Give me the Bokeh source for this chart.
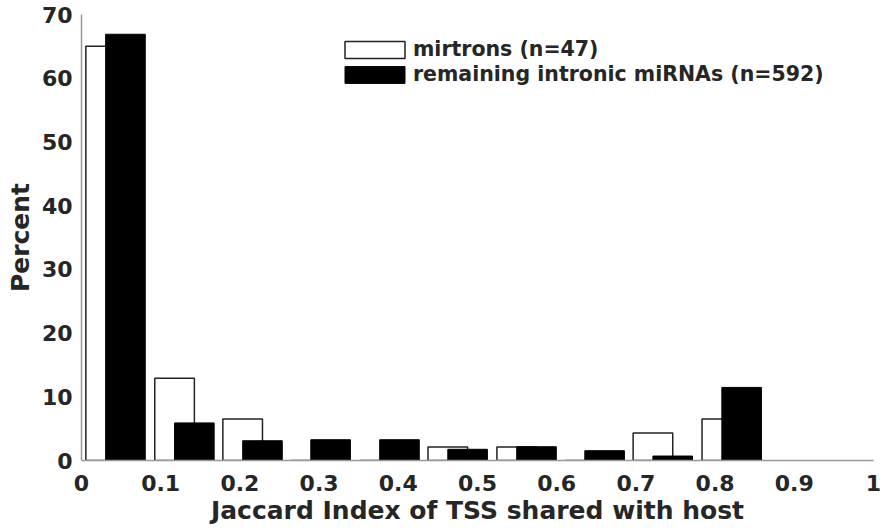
from bokeh.plotting import figure
from bokeh.models import FixedTicker, Legend, LegendItem, ColumnDataSource
from bokeh.transform import dodge
from bokeh.embed import file_html
from bokeh.resources import INLINE

bin_centers = [0.043, 0.130, 0.216, 0.302, 0.389, 0.475, 0.562, 0.648, 0.734, 0.821]
mirtrons = [65.0, 12.9, 6.5, 0.0, 0.0, 2.12, 2.12, 0.0, 4.3, 6.5]
remaining = [66.9, 5.9, 3.1, 3.26, 3.26, 1.76, 2.16, 1.54, 0.7, 11.47]
x_ticks = [0, 0.1, 0.2, 0.3, 0.4, 0.5, 0.6, 0.7, 0.8, 0.9, 1]
x_tick_labels = ["0", "0.1", "0.2", "0.3", "0.4", "0.5", "0.6", "0.7", "0.8", "0.9", "1"]
y_ticks = [0, 10, 20, 30, 40, 50, 60, 70]
label_mirtrons = "mirtrons (n=47)"
label_remaining = "remaining intronic miRNAs (n=592)"
x_title = "Jaccard Index of TSS shared with host"
y_title = "Percent"

src = ColumnDataSource(dict(x=bin_centers, m=mirtrons, r=remaining))

FONT = "DejaVu Sans"
TXT = "#262626"

p = figure(frame_width=792, frame_height=446, x_range=(0, 1), y_range=(0, 70),
           output_backend="svg", toolbar_location=None,
           min_border_left=81, min_border_right=8, min_border_top=14, min_border_bottom=20)
p.outline_line_color = None
p.grid.visible = False

r1 = p.vbar(x=dodge("x", -0.0125, range=p.x_range), top="m", width=0.05, bottom=0,
            source=src, fill_color="white", line_color="#222222", line_width=1.5)
r2 = p.vbar(x=dodge("x", 0.0125, range=p.x_range), top="r", width=0.05, bottom=0,
            source=src, fill_color="black", line_color="black", line_width=1.0)

for ax in (p.xaxis[0], p.yaxis[0]):
    ax.axis_line_color = "#999999"
    ax.axis_line_width = 1.5
    ax.major_tick_line_color = None
    ax.minor_tick_line_color = None
    ax.major_tick_out = 0
    ax.major_tick_in = 0
    ax.major_label_text_font = FONT
    ax.major_label_text_font_style = "bold"
    ax.major_label_text_font_size = "22px"
    ax.major_label_text_color = TXT
    ax.axis_label_text_font = FONT
    ax.axis_label_text_font_style = "bold"
    ax.axis_label_text_font_size = "25px"
    ax.axis_label_text_color = TXT

p.xaxis.ticker = FixedTicker(ticks=x_ticks)
p.xaxis.major_label_overrides = {t: l for t, l in zip(x_ticks, x_tick_labels)}
p.yaxis.ticker = FixedTicker(ticks=y_ticks)
p.xaxis.axis_label = x_title
p.yaxis.axis_label = y_title
p.xaxis.major_label_standoff = 14
p.yaxis.major_label_standoff = 9
p.xaxis.axis_label_standoff = 2
p.yaxis.axis_label_standoff = 4

legend = Legend(items=[LegendItem(label=label_mirtrons, renderers=[r1]),
                       LegendItem(label=label_remaining, renderers=[r2])],
                location=(256, 374))
legend.border_line_color = None
legend.background_fill_alpha = 0
legend.padding = 0
legend.margin = 0
legend.spacing = 1
legend.glyph_width = 75
legend.glyph_height = 21
legend.label_height = 20
legend.label_standoff = 1
legend.label_text_font = FONT
legend.label_text_font_style = "bold"
legend.label_text_font_size = "20.5px"
legend.label_text_color = TXT
p.add_layout(legend, "center")

open("out.html", "w").write(file_html(p, INLINE))
